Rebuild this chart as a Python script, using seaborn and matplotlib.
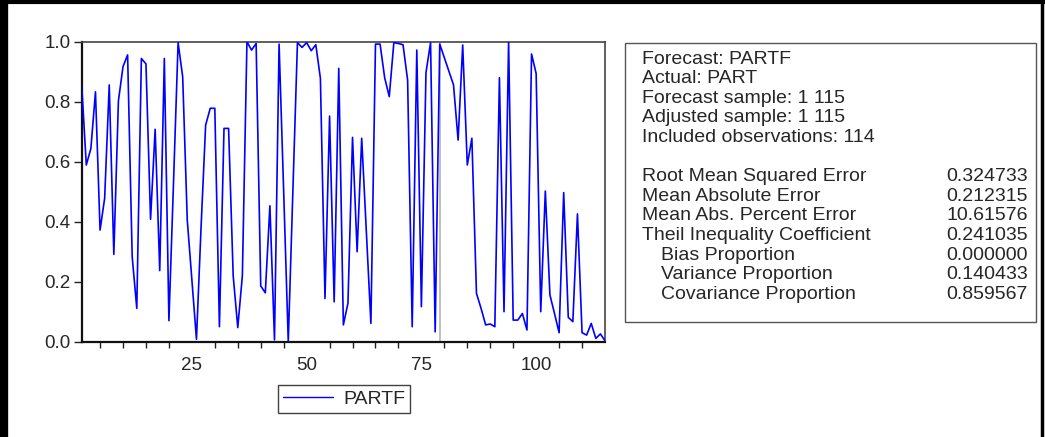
import numpy as np
import pandas as pd
import matplotlib
matplotlib.use("Agg")
import matplotlib.pyplot as plt
import seaborn as sns
from matplotlib.patches import Rectangle
from matplotlib.lines import Line2D

# ---------------- data ----------------
obs_left = list(range(1, 80))          # observations 1..79
vals_left = [0.855, 0.589, 0.644, 0.833, 0.372, 0.478, 0.856, 0.291, 0.803, 0.917,
             0.956, 0.283, 0.111, 0.944, 0.926, 0.408, 0.708, 0.237, 0.944, 0.070,
             0.530, 0.997, 0.883, 0.405, 0.207, 0.008, 0.380, 0.722, 0.778, 0.778,
             0.050, 0.711, 0.711, 0.220, 0.047, 0.220, 1.000, 0.972, 0.994, 0.186,
             0.163, 0.453, 0.006, 0.992, 0.500, 0.000, 0.500, 0.997, 0.981, 0.997,
             0.970, 0.990, 0.878, 0.144, 0.752, 0.133, 0.911, 0.056, 0.128, 0.681,
             0.300, 0.678, 0.370, 0.061, 0.992, 0.992, 0.880, 0.817, 0.997, 0.994,
             0.990, 0.872, 0.050, 0.972, 0.117, 0.897, 0.997, 0.033, 0.992]
obs_right = list(range(82, 116))       # observations 82..115
vals_right = [0.856, 0.672, 0.989, 0.589, 0.678, 0.161, 0.111, 0.056, 0.059, 0.050,
              0.880, 0.100, 1.000, 0.072, 0.072, 0.094, 0.039, 0.959, 0.894, 0.100,
              0.502, 0.156, 0.094, 0.030, 0.497, 0.081, 0.067, 0.426, 0.030, 0.022,
              0.061, 0.011, 0.026, 0.003]
series_name = "PARTF"
marker_obs = 79

x_ticks = [25, 50, 75, 100]
y_ticks = [0.0, 0.2, 0.4, 0.6, 0.8, 1.0]

stat_header = ["Forecast: PARTF", "Actual: PART", "Forecast sample: 1 115",
               "Adjusted sample: 1 115", "Included observations: 114"]
stat_labels = ["Root Mean Squared Error", "Mean Absolute Error",
               "Mean Abs. Percent Error", "Theil Inequality Coefficient",
               "Bias Proportion", "Variance Proportion", "Covariance Proportion"]
stat_values = ["0.324733", "0.212315", "10.61576", "0.241035",
               "0.000000", "0.140433", "0.859567"]
stat_indent = [False, False, False, False, True, True, True]

# ---------------- plotting ----------------
sns.set_style("white")
plt.rcParams["font.family"] = ["Liberation Sans", "DejaVu Sans"]

W, H = 1045, 437
fig = plt.figure(figsize=(W / 100, H / 100), dpi=100)


def fx(px):
    return px / W


def fy(py):
    return 1 - py / H


left, right, top, bottom = 81.7, 605.0, 41.7, 341.7
ax = fig.add_axes([fx(left), fy(bottom), fx(right) - fx(left), (bottom - top) / H])

df = pd.DataFrame({"obs": obs_left + obs_right, "value": vals_left + vals_right,
                   "series": series_name})

ax.axvline(marker_obs, color="#b4b4b4", lw=1.2, zorder=1)
sns.lineplot(data=df, x="obs", y="value", hue="series", palette=["#0000ff"],
             lw=1.2, ax=ax, zorder=3)

ax.set_xlim(1, 115)
ax.set_ylim(0, 1)
ax.set_xlabel("")
ax.set_ylabel("")
ax.set_xticks(x_ticks)
ax.set_xticks([t for t in range(5, 115, 5) if t not in x_ticks], minor=True)
ax.set_yticks(y_ticks)
ax.set_yticklabels([f"{v:.1f}" for v in y_ticks])
ax.tick_params(axis="x", which="major", length=8, width=1, direction="out",
               labelsize=13.5, pad=3, color="#222222")
ax.tick_params(axis="x", which="minor", length=4, width=1, direction="out",
               color="#222222", bottom=True)
ax.tick_params(axis="y", length=6, width=1, direction="out", labelsize=13.5,
               pad=2, color="#222222", left=True)
for s in ["left", "bottom"]:
    ax.spines[s].set_color("#111111")
    ax.spines[s].set_linewidth(1.6)
for s in ["top", "right"]:
    ax.spines[s].set_color("#444444")
    ax.spines[s].set_linewidth(1.2)

leg = ax.legend(handles=ax.get_legend_handles_labels()[0],
                labels=[series_name], loc="center",
                bbox_to_anchor=(fx(344), fy(399)), bbox_transform=fig.transFigure,
                frameon=True, fancybox=False, fontsize=14, handlelength=2.6,
                borderpad=0.25, handletextpad=0.5, borderaxespad=0)
leg.get_frame().set_edgecolor("#111111")
leg.get_frame().set_linewidth(1.0)
for h in leg.get_lines():
    h.set_linewidth(1.0)

# statistics box
box_l, box_r, box_t, box_b = 625, 1036, 43, 322
fig.patches.append(Rectangle((fx(box_l), fy(box_b)), fx(box_r) - fx(box_l),
                             (box_b - box_t) / H, transform=fig.transFigure,
                             fill=False, ec="#555555", lw=1.0))
fs = 14
line_h = 19.6
y0 = 59
for k, t in enumerate(stat_header):
    fig.text(fx(642), fy(y0 + k * line_h), t, fontsize=fs, va="center", ha="left")
y1 = y0 + 6 * line_h
for k, (lab, val, ind) in enumerate(zip(stat_labels, stat_values, stat_indent)):
    yy = fy(y1 + k * line_h)
    fig.text(fx(661 if ind else 642), yy, lab, fontsize=fs, va="center", ha="left")
    fig.text(fx(1028), yy, val, fontsize=fs, va="center", ha="right")

# outer frame (top, left, right)
fig.add_artist(Line2D([0, 1], [fy(1.5), fy(1.5)], transform=fig.transFigure,
                      color="black", lw=3))
fig.add_artist(Line2D([fx(4), fx(4)], [0, 1], transform=fig.transFigure,
                      color="black", lw=6))
fig.add_artist(Line2D([fx(1042), fx(1042)], [0, 1], transform=fig.transFigure,
                      color="black", lw=2.5))

fig.savefig("out.png", dpi=100)
